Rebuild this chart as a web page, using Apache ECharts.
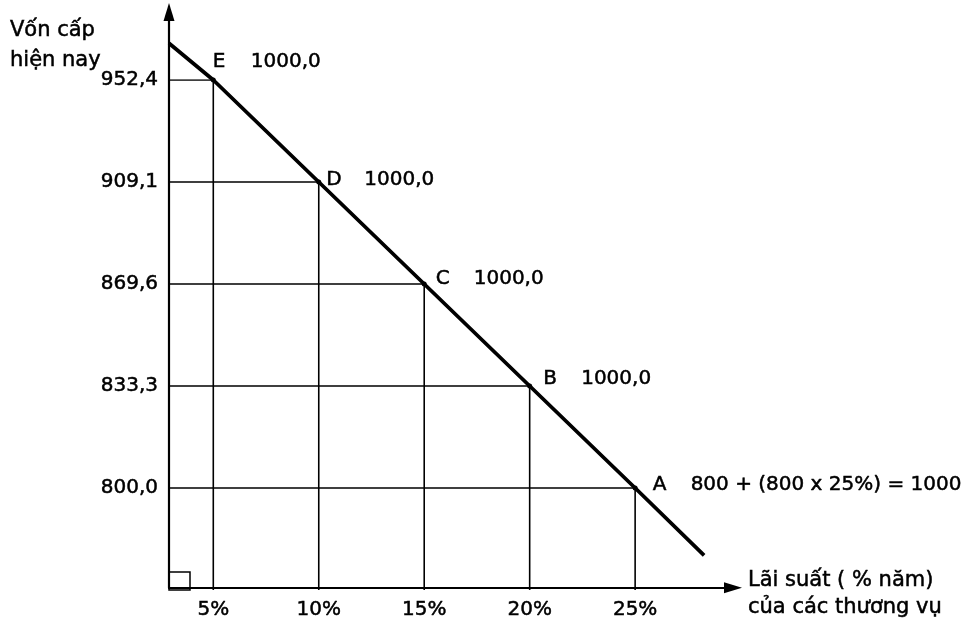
<!DOCTYPE html>
<html>
<head>
<meta charset="utf-8">
<title>Vốn cấp hiện nay</title>
<script src="https://cdn.jsdelivr.net/npm/echarts@6/dist/echarts.min.js"></script>
<style>
html, body { margin: 0; padding: 0; background: #fff; }
#chart { width: 965px; height: 620px; }
</style>
</head>
<body>
<div id="chart"></div>
<script>
// so lieu: diem A..E
var rates = [25, 20, 15, 10, 5];                    // lai suat (% nam)
var capital = [800.0, 833.3, 869.6, 909.1, 952.4];  // von cap hien nay
var letters = ['A', 'B', 'C', 'D', 'E'];
var futureText = ['800 + (800 x 25%) = 1000', '1000,0', '1000,0', '1000,0', '1000,0'];
var xTicks = [5, 10, 15, 20, 25];
// hai dau cua duong thang (lai suat, bac tren truc von)
var lineEnds = [[2.9, 5.36], [28.27, 0.34]];

var xMin = 2.9, xMax = 29.64;
var font = 'DejaVu Sans';
var ink = '#000';

// chu in dam hon mot chut (giong ban scan)
var txt = { fontFamily: font, fontSize: 20, color: ink, textBorderColor: ink, textBorderWidth: 0.5 };

// vi tri nhan chu so voi diem
var labelShift = [[15, -3], [11, -7], [9, -5], [5, -2], [-3, -18]];

function fmt(v) {
	return v.toFixed(1).replace('.', ',');
}
var yCats = [''].concat(capital.map(fmt));

// duong thang chinh (ve tren truc phu theo bac)
var mainLine = [lineEnds[0]];
for (var i = rates.length - 1; i >= 0; i--) {
	mainLine.push([rates[i], yCats.indexOf(fmt(capital[i]))]);
}
mainLine.push(lineEnds[1]);

// duong giong xuong hai truc
var series = [];
for (var i = 0; i < rates.length; i++) {
	series.push({
		type: 'line',
		xAxisIndex: 1,
		yAxisIndex: 1,
		symbol: 'none',
		silent: true,
		clip: false,
		lineStyle: { color: ink, width: 1.6 },
		data: [[xMin, fmt(capital[i])], [rates[i], fmt(capital[i])], [rates[i], yCats[0]]],
		z: 2
	});
}

series.push({
	type: 'line',
	xAxisIndex: 1,
	yAxisIndex: 2,
	symbol: 'none',
	clip: false,
	lineStyle: { color: ink, width: 3.8 },
	data: mainLine,
	z: 3
});

// diem va nhan
var pts = [];
for (var i = 0; i < rates.length; i++) {
	pts.push({
		name: letters[i],
		value: [rates[i], fmt(capital[i])],
		label: { offset: labelShift[i] }
	});
}
series.push({
	type: 'scatter',
	xAxisIndex: 1,
	yAxisIndex: 1,
	symbolSize: 5,
	itemStyle: { color: ink, opacity: 1 },
	clip: false,
	data: pts,
	label: {
		show: true,
		position: 'right',
		distance: 0,
		color: ink,
		formatter: function (p) {
			return '{l|' + p.name + '}{v|' + futureText[p.dataIndex] + '}';
		},
		rich: {
			l: Object.assign({ width: 38 }, txt),
			v: txt
		}
	},
	z: 4
});

var container = echarts.init(document.getElementById('chart'));
var option = {
	backgroundColor: '#fff',
	animation: false,
	title: [{
		text: 'Vốn cấp\nhiện nay',
		left: 10,
		top: 16,
		padding: 0,
		textStyle: Object.assign({ fontWeight: 'normal', fontSize: 21, lineHeight: 30 }, { fontFamily: font, color: ink, textBorderColor: ink, textBorderWidth: 0.5 })
	}, {
		text: 'Lãi suất ( % năm)\ncủa các thương vụ',
		left: 748,
		top: 567,
		padding: 0,
		textStyle: Object.assign({ fontWeight: 'normal', fontSize: 21, lineHeight: 27 }, { fontFamily: font, color: ink, textBorderColor: ink, textBorderWidth: 0.5 })
	}],
	grid: [
		{ left: 169, right: 232, top: 12, bottom: 30 },   // khung truc co mui ten
		{ left: 169, right: 232, top: 80, bottom: 30 }    // khung ve so lieu
	],
	xAxis: [{
		type: 'value',
		gridIndex: 0,
		min: xMin,
		max: xMax,
		axisLine: { show: true, lineStyle: { color: ink, width: 2.2 }, symbol: ['none', 'triangle'], symbolSize: [11, 18] },
		axisTick: { show: false },
		splitLine: { show: false },
		axisLabel: Object.assign({
			customValues: xTicks,
			formatter: '{value}%',
			margin: 12
		}, txt)
	}, {
		type: 'value',
		gridIndex: 1,
		min: xMin,
		max: xMax,
		show: false
	}],
	yAxis: [{
		type: 'value',
		gridIndex: 0,
		min: 0,
		max: 1,
		axisLine: { show: true, lineStyle: { color: ink, width: 2.2 }, symbol: ['none', 'triangle'], symbolSize: [11, 18] },
		axisTick: { show: false },
		splitLine: { show: false },
		axisLabel: { show: false }
	}, {
		type: 'category',
		gridIndex: 1,
		data: yCats,
		boundaryGap: false,
		axisLine: { show: false },
		axisTick: { show: false },
		splitLine: { show: false },
		axisLabel: Object.assign({ margin: 11 }, txt)
	}, {
		// truc phu an: bac 0..5 trung voi cac hang muc cua truc von
		type: 'value',
		gridIndex: 1,
		min: 0,
		max: yCats.length - 1,
		show: false
	}],
	graphic: [{
		type: 'rect',
		shape: { x: 169, y: 572, width: 21, height: 18 },
		style: { fill: 'none', stroke: ink, lineWidth: 1.5 }
	}],
	series: series
};
container.setOption(option, true);
</script>
</body>
</html>
